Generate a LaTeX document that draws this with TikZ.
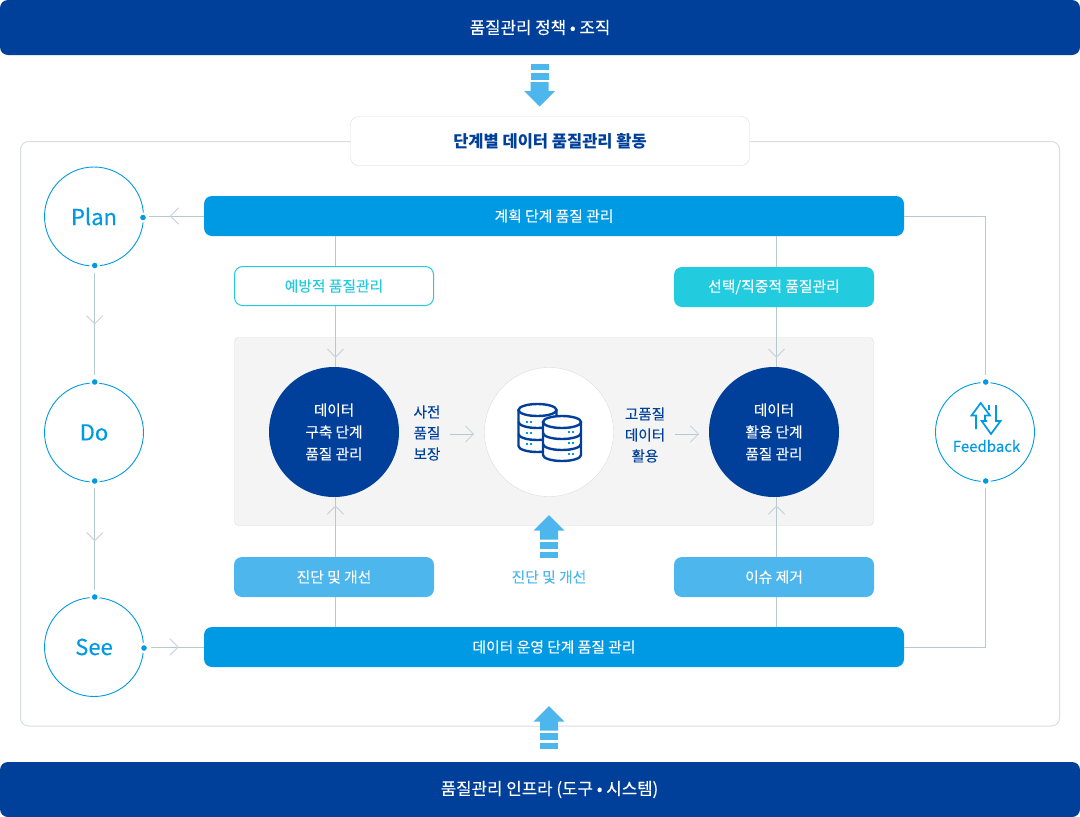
\documentclass[tikz,border=0pt]{standalone}
\usepackage{fontspec}
\setmainfont{Noto Sans CJK KR}[FakeBold=0.12, BoldFeatures={FakeBold=0}]
\usetikzlibrary{arrows.meta, decorations.markings, positioning}
\definecolor{navy}{HTML}{00409A}
\definecolor{skyblue}{HTML}{009AE4}
\definecolor{lightsky}{HTML}{4DB6EC}
\definecolor{teal}{HTML}{22CBDD}
\definecolor{linegray}{HTML}{B5C9CF}
\definecolor{tipgray}{HTML}{CBD5DB}
\definecolor{framegray}{HTML}{D8DDE0}
\definecolor{panelgray}{HTML}{F4F4F5}
\tikzstyle{banner} = [rectangle, minimum width=1080, minimum height=55, rounded corners=8, fill=navy, text=white, font=\fontsize{16.8}{20}\selectfont]
\tikzstyle{stagebar} = [rectangle, minimum width=700, minimum height=40, rounded corners=8, fill=skyblue, text=white, font=\fontsize{14.8}{18}\selectfont]
\tikzstyle{tagbox} = [rectangle, minimum width=200, minimum height=40, rounded corners=8, fill=lightsky, text=white, font=\fontsize{14.8}{18}\selectfont]
\tikzstyle{phase} = [circle, minimum size=99, inner sep=0, draw=skyblue, fill=white, line width=0.9, text=skyblue, font=\fontsize{22}{24}\selectfont]
\tikzstyle{bigdisc} = [circle, minimum size=130, inner sep=0, fill=navy, text=white, align=center, font=\fontsize{14.6}{22}\selectfont]
\tikzstyle{port} = [circle, minimum size=8, inner sep=0, fill=skyblue, draw=white, line width=2]
\tikzstyle{caption} = [align=center, text=navy, font=\fontsize{14.6}{21}\selectfont]
\tikzstyle{link} = [draw=linegray, line width=1]
\tikzset{
  chevron/.style={postaction={decorate, decoration={markings, mark=at position #1 with {\arrow[tipgray, line width=1]{Straight Barb[length=8, width=17, angle'=90, round]}}}}},
  stripearrow/.pic={
    \fill[lightsky] (-15.5,0) -- (0,-15.5) -- (15.5,0) -- (9,0) -- (9,9) -- (-9,9) -- (-9,0) -- cycle;
    \fill[lightsky] (-9,11.5) rectangle (9,18);
    \fill[lightsky] (-9,21) rectangle (9,27);
  },
  pics/dbunit/.style={code={
    \draw[navy, line width=2.4, fill=white] (-19,0) -- (-19,3*#1) arc[start angle=180, end angle=0, x radius=19, y radius=6] -- (19,0);
    \draw[navy, line width=2.4] (-19,#1) arc[start angle=180, end angle=0, x radius=19, y radius=6];
    \draw[navy, line width=2.4] (-19,2*#1) arc[start angle=180, end angle=0, x radius=19, y radius=6];
    \draw[navy, line width=2.4, fill=white] (0,0) ellipse[x radius=19, y radius=6];
  }}
}
\begin{document}
\begin{tikzpicture}[x=1pt, y=-1pt, every node/.style={inner sep=0}]
\useasboundingbox (0,0) rectangle (1080,817);
\draw[framegray, rounded corners=8, line width=1] (20.5,141.5) rectangle (1059.5,726);
\fill[panelgray, draw=framegray, rounded corners=4] (234.5,337.5) rectangle (873.5,525.5);
\node (policy) [banner] at (540,27.5) {품질관리 정책 • 조직};
\node (infra) [banner] at (540,789.5) {\hspace*{19pt}품질관리 인프라 (도구 • 시스템)};
\node (title) [rectangle, minimum width=399, minimum height=49, rounded corners=8, draw=framegray, fill=white, text=navy, font=\fontsize{16.5}{20}\bfseries\selectfont] at (550,141) {단계별 데이터 품질관리 활동};
\node (plan) [phase] at (94,216.5) {Plan};
\node (do) [phase] at (94,432.5) {Do};
\node (see) [phase] at (94,647) {See};
\node (feedback) [phase] at (985,432) {};
\node (fbtext) [text=skyblue, font=\fontsize{15}{16}\selectfont] at (986.5,446) {Feedback};
\node (planbar) [stagebar] at (554,216) {계획 단계 품질 관리};
\node (runbar) [stagebar] at (554,647) {데이터 운영 단계 품질 관리};
\node (build) [bigdisc] at (334,432) {\raisebox{-1pt}{데이터}\\\raisebox{-1pt}{구축 단계}\\\raisebox{-1pt}{품질 관리}};
\node (store) [circle, minimum size=129, draw=framegray, fill=white] at (549,432) {};
\node (use) [bigdisc] at (774,432) {\raisebox{-1pt}{데이터}\\\raisebox{-1pt}{활용 단계}\\\raisebox{-1pt}{품질 관리}};
\pic at (537.5,410) {dbunit=12};
\pic at (562,422) {dbunit=11};
\foreach \dy in {11.7,22.7,34} {
  \fill[skyblue] (526,410+\dy-1) rectangle ++(2,2);
  \fill[skyblue] (529.5,410+\dy-1) rectangle ++(2,2);
}
\foreach \dy in {10,21,32} {
  \fill[skyblue] (568,422+\dy-1) rectangle ++(2,2);
  \fill[skyblue] (571.5,422+\dy-1) rectangle ++(2,2);
}
\draw[skyblue, line width=1.7] (976,429) -- (976,415.5) -- (971.5,415.5) -- (980.7,403) -- (990,415.5) -- (985,415.5) -- (985,420);
\draw[skyblue, line width=1.7] (996,405) -- (996,421) -- (1000.5,421) -- (991,434) -- (981.7,421) -- (987,421);
\draw[skyblue, line width=1.7] (989,405) -- (989,410);
\coordinate (planA) at (335.5,236);
\coordinate (planB) at (776.5,236);
\coordinate (runA) at (335.5,627);
\coordinate (runB) at (776.5,627);
\draw[link, chevron=0.93] (planA) -- (build.north -| planA);
\draw[link, chevron=0.93] (planB) -- (use.north -| planB);
\draw[link, chevron=0.935] (runA) -- (build.south -| runA);
\draw[link, chevron=0.935] (runB) -- (use.south -| runB);
\node (prevent) [tagbox, fill=white, draw=teal, line width=1, minimum width=199, minimum height=39, text=teal] at (334,286) {예방적 품질관리};
\node (select) [tagbox, fill=teal] at (774,287) {선택/직중적 품질관리};
\node (diagA) [tagbox] at (334,577) {진단 및 개선};
\node (issue) [tagbox] at (774,577) {이슈 제거};
\node (diagB) [text=lightsky, font=\fontsize{14.8}{18}\selectfont] at (549,577) {진단 및 개선};
\node (assure) [caption] at (427,433) {사전\\품질\\보장};
\node (quality) [caption] at (645,435) {고품질\\데이터\\활용};
\coordinate (assureE) at (450,434);
\coordinate (qualityE) at (675,434);
\coordinate (storeW) at (474,434);
\coordinate (useW) at (699,434);
\draw[link, chevron=1] (assureE) -- (storeW);
\draw[link, chevron=1] (qualityE) -- (useW);
\node (planE) [port] at (143,217.5) {};
\node (planS) [port] at (94.7,265.5) {};
\node (doN) [port] at (94.7,382) {};
\node (doS) [port] at (94.7,481) {};
\node (seeN) [port] at (94.7,597) {};
\node (seeE) [port] at (144,648) {};
\node (fbN) [port] at (985.7,382) {};
\node (fbS) [port] at (985.7,481) {};
\draw[link, chevron=0.557, shorten >=6] (planbar.west) -- (planbar.west -| planE);
\draw[link, chevron=0.505, shorten <=2, shorten >=2] (planS) -- (doN);
\draw[link, chevron=0.52, shorten <=2, shorten >=2] (doS) -- (seeN);
\draw[link, chevron=0.54, shorten <=2] (seeE.east |- runbar) -- (runbar.west);
\draw[link, shorten >=2] (planbar.east) -| (fbN);
\draw[link, shorten >=2] (runbar.east) -| (fbS);
\pic at (539.5,91) [yscale=-1] {stripearrow};
\pic at (549,530.5) {stripearrow};
\pic at (549,721.5) {stripearrow};
\end{tikzpicture}
\end{document}
